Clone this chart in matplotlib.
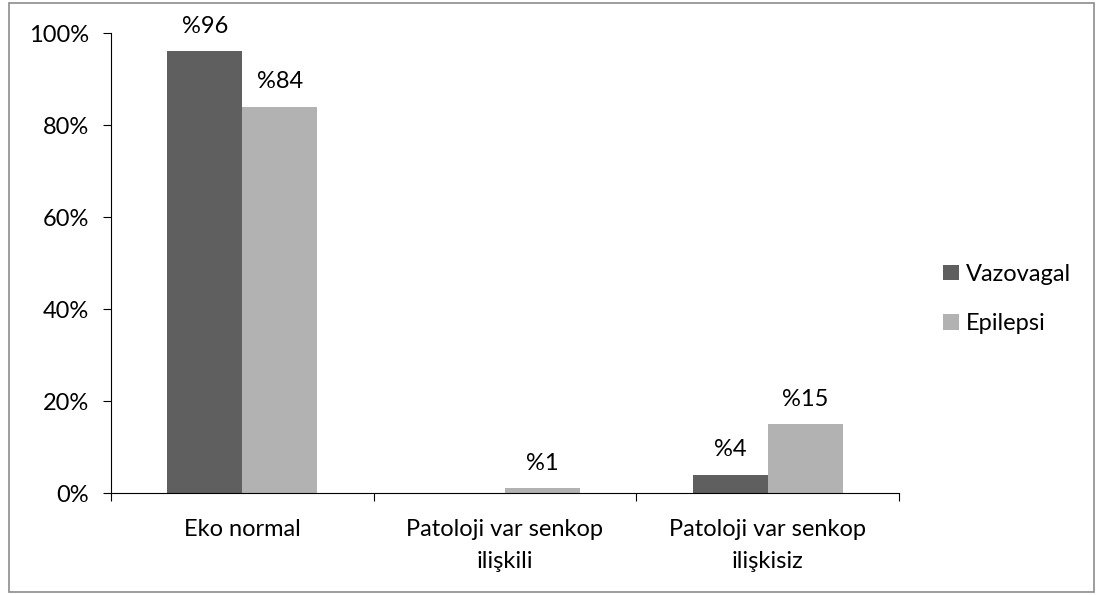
import matplotlib
matplotlib.use("Agg")
import matplotlib.pyplot as plt
import numpy as np
from matplotlib.patches import Rectangle

categories = ["Eko normal", "Patoloji var senkop\nilişkili", "Patoloji var senkop\nilişkisiz"]
series_names = ["Vazovagal", "Epilepsi"]
vazovagal = [96, 0, 4]
epilepsi = [84, 1, 15]
vazovagal_labels = ["%96", None, "%4"]
epilepsi_labels = ["%84", "%1", "%15"]
yticks = [0, 20, 40, 60, 80, 100]
colors = ["#5f5f5f", "#b2b2b2"]

plt.rcParams['font.family'] = ['Lato', 'DejaVu Sans']
FS = 17

W, H = 1102, 595
fig = plt.figure(figsize=(W/100, H/100), dpi=100)
fig.patches.append(Rectangle((9/W, 1-592/H), (1094-9)/W, (592-3)/H, transform=fig.transFigure,
                             fill=False, edgecolor="#8c8c8c", linewidth=1.2))

ax = fig.add_axes([111/W, 1-493/H, (899-111)/W, (493-33)/H])
x = np.arange(len(categories))
bw = 1/3.5
ax.bar(x - bw/2, vazovagal, bw, color=colors[0], label=series_names[0])
ax.bar(x + bw/2, epilepsi, bw, color=colors[1], label=series_names[1])

for xi, v, lab in zip(x, vazovagal, vazovagal_labels):
    if lab:
        ax.annotate(lab, (xi - bw/2, v), xytext=(0, 18), textcoords="offset points",
                    ha="center", va="center", fontsize=FS)
for xi, v, lab in zip(x, epilepsi, epilepsi_labels):
    if lab:
        ax.annotate(lab, (xi + bw/2, v), xytext=(0, 18), textcoords="offset points",
                    ha="center", va="center", fontsize=FS)

ax.set_xlim(-0.5, len(categories) - 0.5)
ax.set_ylim(0, 100)
ax.set_yticks(yticks)
ax.set_yticklabels([f"{t}%" for t in yticks], fontsize=FS)
ax.set_xticks(np.arange(len(categories) + 1) - 0.5)
ax.set_xticklabels([])
ax.set_xticks(x, minor=True)
ax.set_xticklabels(categories, minor=True, fontsize=FS, linespacing=1.6)
ax.tick_params(axis="x", which="minor", length=0, pad=19)
ax.tick_params(axis="x", which="major", length=6, direction="out")
ax.tick_params(axis="y", length=6, direction="out", pad=10)
for s in ["top", "right"]:
    ax.spines[s].set_visible(False)
ax.spines["left"].set_color("black")
ax.spines["bottom"].set_color("black")

leg = fig.legend(loc="center left", bbox_to_anchor=(922/W, 1-299/H), frameon=False,
                 fontsize=FS, handlelength=0.65, handleheight=0.65, handletextpad=0.3,
                 labelspacing=1.2)

fig.savefig("out.png", dpi=100)
